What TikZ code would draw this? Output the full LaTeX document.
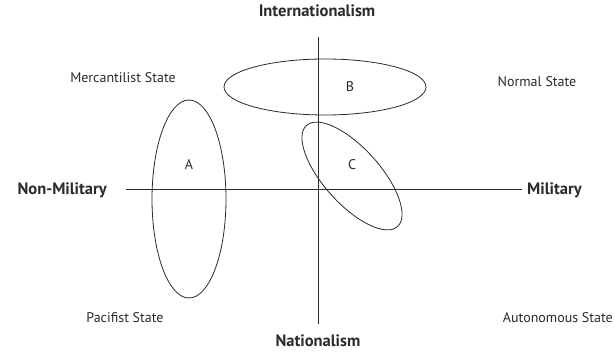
\documentclass[tikz,border=0pt]{standalone}
\usepackage{fontspec}
\setmainfont{PT Sans}
\definecolor{ink}{HTML}{2B2B2B}
\begin{document}
\begin{tikzpicture}[x=1pt,y=1pt,
  line/.style={draw=ink,line width=0.8pt},
  axislabel/.style={font=\fontsize{16.5}{18}\selectfont\bfseries,text=ink,inner sep=1pt},
  statelabel/.style={font=\fontsize{14}{16}\selectfont,text=ink,inner sep=1pt},
  letter/.style={font=\fontsize{14}{16}\selectfont,text=ink}]
\useasboundingbox[fill=white] (0,0) rectangle (615,353);
% axes
\coordinate (vtop) at (318,316);
\coordinate (vbot) at (318,29);
\coordinate (hleft) at (126,164);
\coordinate (hright) at (522,164);
\draw[line] (vtop) -- (vbot);
\draw[line] (hleft) -- (hright);
% axis labels
\node[axislabel,anchor=base] (intl) at (317,336) {Internationalism};
\node[axislabel,anchor=base] (natl) at (318,6) {Nationalism};
\node[axislabel,anchor=east] (nonmil) at (108,163) {Non-Military};
\node[axislabel,anchor=west] (mil) at (526,163) {Military};
% quadrant labels
\node[statelabel] (merc) at (123,275) {Mercantilist State};
\node[statelabel] (normal) at (537,271) {Normal State};
\node[statelabel] (pacif) at (125,35) {Pacifist State};
\node[statelabel,anchor=east] (auton) at (614,35) {Autonomous State};
% ellipses
\draw[line] (325,266) ellipse (101 and 28);
\draw[line] (189,154) ellipse (37 and 99);
\draw[line,rotate around={-48:(352,177)}] (352,177) ellipse (68 and 28);
% letters
\node[letter] (B) at (350,266) {B};
\node[letter] (A) at (189,188) {A};
\node[letter] (C) at (352,188) {C};
\end{tikzpicture}
\end{document}
